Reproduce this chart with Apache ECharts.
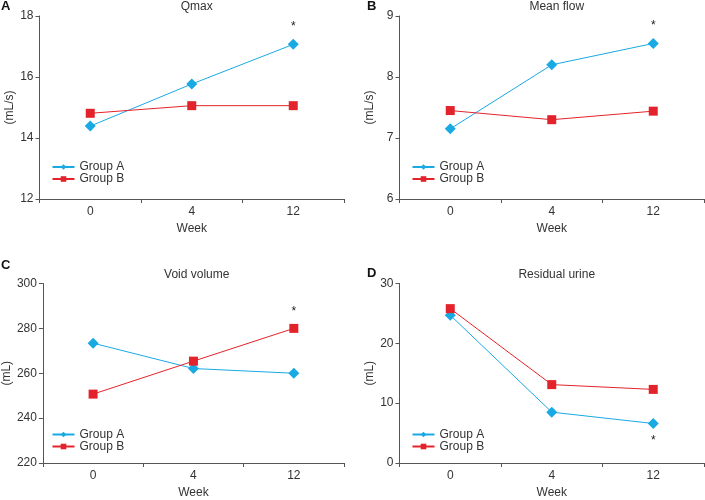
<!DOCTYPE html>
<html>
<head>
<meta charset="utf-8">
<script src="https://cdn.jsdelivr.net/npm/echarts@6/dist/echarts.min.js"></script>
<style>html,body{margin:0;padding:0;background:#fff}#c{width:705px;height:500px}</style>
</head>
<body>
<div id="c"></div>
<script>
var weeks = ['0', '4', '12'];
var qmaxA = [14.39, 15.77, 17.07];
var qmaxB = [14.81, 15.06, 15.06];
var meanFlowA = [7.15, 8.2, 8.55];
var meanFlowB = [7.45, 7.3, 7.44];
var voidVolA = [273.4, 262.1, 260.0];
var voidVolB = [250.7, 265.4, 280.0];
var residualA = [24.7, 8.5, 6.6];
var residualB = [25.8, 13.1, 12.3];
var titles = ['Qmax', 'Mean flow', 'Void volume', 'Residual urine'];
var letters = ['A', 'B', 'C', 'D'];
var yUnits = ['(mL/s)', '(mL/s)', '(mL)', '(mL)'];
var yRanges = [[12, 18, 2], [6, 9, 1], [220, 300, 20], [0, 30, 10]];
var stars = [{s: 0, i: 2, pos: 'top'}, {s: 0, i: 2, pos: 'top'}, {s: 1, i: 2, pos: 'top'}, {s: 0, i: 2, pos: 'bottom'}];

var panels = [[qmaxA, qmaxB], [meanFlowA, meanFlowB], [voidVolA, voidVolB], [residualA, residualB]];
var grids = [
  {left: 39.5, top: 16, width: 304.5, height: 183},
  {left: 399.5, top: 16, width: 304.5, height: 183},
  {left: 39.5, top: 283.5, width: 304.5, height: 183.5},
  {left: 399.5, top: 283.5, width: 304.5, height: 183.5}
];
var letterPos = [[-4, -5.5], [362, -5.5], [-4, 253.5], [362, 261.5]];
var BLUE = '#19a9e3', RED = '#e3232b', AX = '#555555', TXT = '#333333';
var FONT = 'Liberation Sans';

var option = {
  animation: false,
  textStyle: {fontFamily: FONT},
  grid: grids,
  title: [], xAxis: [], yAxis: [], series: [], legend: []
};
grids.forEach(function (g, k) {
  option.title.push({
    text: titles[k], left: g.left + g.width / 2, top: g.top - 20, textAlign: 'center',
    textStyle: {fontSize: 12, fontWeight: 'normal', color: TXT, fontFamily: FONT}
  });
  option.title.push({
    text: letters[k], left: letterPos[k][0], top: letterPos[k][1],
    textStyle: {fontSize: 13, fontWeight: 'bold', color: '#111', fontFamily: FONT}
  });
  option.xAxis.push({
    type: 'category', gridIndex: k, data: weeks, boundaryGap: true,
    name: 'Week', nameLocation: 'middle', nameGap: 24,
    nameTextStyle: {fontSize: 12, color: TXT},
    axisLine: {lineStyle: {color: AX}},
    axisTick: {show: true, length: 4, lineStyle: {color: AX}},
    axisLabel: {fontSize: 12, color: TXT, margin: 7}
  });
  option.yAxis.push({
    type: 'value', gridIndex: k, min: yRanges[k][0], max: yRanges[k][1], interval: yRanges[k][2],
    name: yUnits[k], nameLocation: 'middle', nameGap: 24,
    nameTextStyle: {fontSize: 12, color: TXT},
    axisLine: {show: true, lineStyle: {color: AX}},
    axisTick: {show: true, length: 4, lineStyle: {color: AX}},
    axisLabel: {fontSize: 12, color: TXT, margin: 6},
    splitLine: {show: false}
  });
  var names = ['Group A', 'Group B'];
  [0, 1].forEach(function (s) {
    var vals = panels[k][s].map(function (v, i) {
      if (stars[k].s === s && stars[k].i === i) {
        return {value: v, label: {show: true, formatter: '*', position: stars[k].pos,
          distance: 6, fontSize: 12, color: '#222'}};
      }
      return v;
    });
    option.series.push({
      type: 'line', name: names[s], xAxisIndex: k, yAxisIndex: k, data: vals,
      symbol: s === 0 ? 'diamond' : 'rect', symbolSize: s === 0 ? 11 : 9,
      itemStyle: {color: s === 0 ? BLUE : RED},
      lineStyle: {color: s === 0 ? BLUE : RED, width: 1},
      label: {show: false}
    });
  });
  option.legend.push({
    data: [{name: 'Group A'}, {name: 'Group B'}], orient: 'vertical', padding: 0,
    left: g.left + 12, top: g.top + 145, itemWidth: 22, itemHeight: 7, itemGap: 0,
    textStyle: {fontSize: 12, color: TXT, lineHeight: 12, height: 12}, selectedMode: false
  });
});
var chart = echarts.init(document.getElementById('c'));
chart.setOption(option);
</script>
</body>
</html>
